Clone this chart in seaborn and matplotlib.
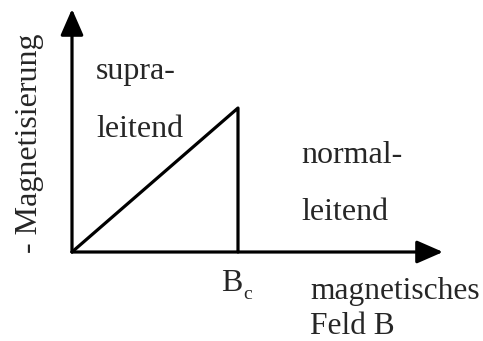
import numpy as np
import pandas as pd
import seaborn as sns
import matplotlib.pyplot as plt

# magnetisation curve of a type-I superconductor (in units of Bc / M(Bc))
field = [0.0, 1.0, 1.0]
magnet = [0.0, 1.0, 0.0]
curve = pd.DataFrame({'B': field, 'M': magnet})

sns.set_style('white')
plt.rcParams['font.family'] = ['Liberation Serif', 'DejaVu Serif']

W, H = 483, 341
fig = plt.figure(figsize=(W / 100, H / 100), dpi=100)
ax = fig.add_axes([0, 0, 1, 1])

# origin at pixel (72, 252), Bc at x=238, M(Bc) at y=108
sx, sy = 166.0, 144.0
ax.set_xlim(-72 / sx, (W - 72) / sx)
ax.set_ylim(-(H - 252) / sy, 252 / sy)
ax.axis('off')

lw = 2.3
sns.lineplot(data=curve, x='B', y='M', sort=False, estimator=None,
             color='black', lw=lw, ax=ax)

# axes arrows
arr = dict(arrowstyle='-|>,head_length=0.8,head_width=0.35', color='black',
           lw=lw, shrinkA=0, shrinkB=0, mutation_scale=20)
ax.annotate('', xy=((443 - 72) / sx, 0), xytext=(0, 0), arrowprops=arr)
ax.annotate('', xy=(0, (252 - 9) / sy), xytext=(0, 0), arrowprops=arr)


def label(px, py, s, size=23, **kw):
    fig.text(px / W, 1 - py / H, s, fontsize=size, va='baseline', ha='left', **kw)


label(96, 79, 'supra-')
label(96, 137, 'leitend')
label(301, 163, 'normal-')
label(301, 220, 'leitend')
label(221, 291, 'B')
label(243, 299, 'c', size=14)
label(310, 299, 'magnetisches', size=22.7)
label(310, 334, 'Feld B', size=22.7)
fig.text(37 / W, 1 - 253 / H, '- Magnetisierung', fontsize=23, rotation=90,
         ha='left', va='baseline', rotation_mode='anchor')

fig.savefig('out.png', dpi=100)
